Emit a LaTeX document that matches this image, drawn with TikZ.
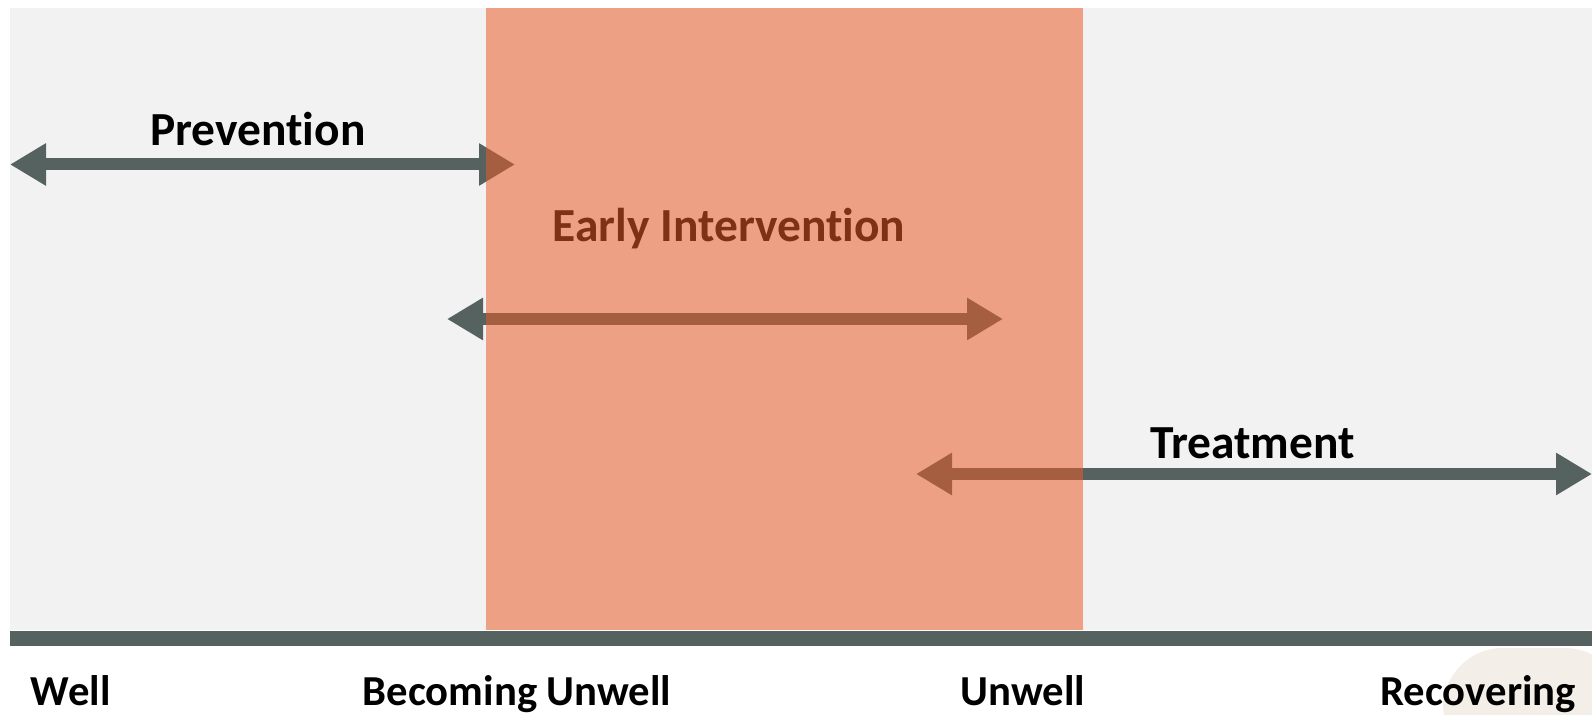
\documentclass[tikz,border=0pt]{standalone}
\usepackage{fontspec}
\setmainfont[Ligatures=NoCommon]{Carlito}
\usetikzlibrary{arrows.meta}
\definecolor{panelgray}{RGB}{242,242,242}
\definecolor{arrowgray}{RGB}{86,98,96}
\definecolor{stageorange}{RGB}{235,92,40}
\definecolor{cornerbeige}{RGB}{243,239,232}
\begin{document}
\begin{tikzpicture}[x=1cm, y=1cm,
    phase/.style={line width=0.24cm, arrowgray, {Triangle[length=0.72cm, width=0.8cm]}-{Triangle[length=0.72cm, width=0.8cm]}},
    label/.style={font=\fontsize{27}{31}\selectfont\bfseries, inner sep=0pt, anchor=base},
    stage/.style={label, font=\fontsize{24.3}{28}\selectfont\bfseries, anchor=base west}]
  \useasboundingbox (0,0) rectangle (31.84,14.28);
  % background: grey panel, faint corner patch and the time axis
  \fill[panelgray] (0.2,1.69) rectangle (31.84,14.12);
  \fill[cornerbeige, rounded corners=1.2cm] (28.86,-1) rectangle (32.5,1.32);
  \fill[arrowgray] (0.2,1.37) rectangle (31.84,1.67);

  % phases: arrow end points and the label above each arrow
  \coordinate (prevL) at (0.2,10.99);
  \coordinate (prevR) at (10.3,10.99);
  \coordinate (earlyL) at (8.94,7.9);
  \coordinate (earlyR) at (20.06,7.9);
  \coordinate (treatL) at (18.32,4.8);
  \coordinate (treatR) at (31.84,4.8);
  \draw[phase] (prevL) -- (prevR);
  \draw[phase] (earlyL) -- (earlyR);
  \draw[phase] (treatL) -- (treatR);
  \node[label] (prevention) at (5.16,11.36) {Prevention};
  \node[label] (early) at (14.58,9.45) {Early Intervention};
  \node[label] (treatment) at (25.05,5.12) {Treatment};

  % the becoming-unwell window, laid over the arrows
  \fill[stageorange, opacity=0.54] (9.72,1.69) rectangle (21.66,14.12);

  % stages along the axis
  \node[stage] (well) at (0.61,0.17) {Well};
  \node[stage] (becoming) at (7.25,0.17) {Becoming Unwell};
  \node[stage] (unwell) at (19.21,0.17) {Unwell};
  \node[stage] (recovering) at (27.6,0.17) {Recovering};
\end{tikzpicture}
\end{document}
